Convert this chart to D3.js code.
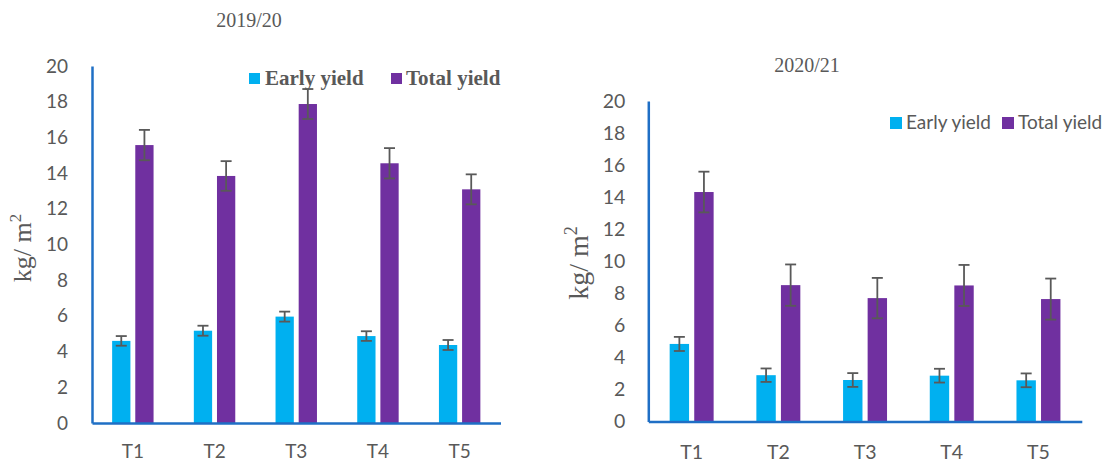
<!DOCTYPE html>
<html>
<head>
<meta charset="utf-8">
<script src="https://cdn.jsdelivr.net/npm/d3@7"></script>
<style>
        body { margin: 0; background: #fff; }
        svg { display: block; }
</style>
</head>
<body>
<script>
// Yield bar charts, two seasons side by side

const categories = ['T1', 'T2', 'T3', 'T4', 'T5'];
const series = ['Early yield', 'Total yield'];
const yTicks = [0, 2, 4, 6, 8, 10, 12, 14, 16, 18, 20];

// 2019/20
const early1920 = [4.60, 5.17, 5.96, 4.87, 4.37];
const earlyErr1920 = [0.27, 0.28, 0.28, 0.27, 0.28];
const total1920 = [15.57, 13.84, 17.87, 14.55, 13.09];
const totalErr1920 = [0.85, 0.83, 0.84, 0.85, 0.84];

// 2020/21
const early2021 = [4.84, 2.89, 2.59, 2.86, 2.57];
const earlyErr2021 = [0.44, 0.42, 0.43, 0.43, 0.43];
const total2021 = [14.32, 8.51, 7.70, 8.49, 7.64];
const totalErr2021 = [1.27, 1.29, 1.26, 1.28, 1.28];

const colors = { 'Early yield': '#00B0F0', 'Total yield': '#7030A0' };
const grey = '#595959';
const axisBlue = '#1F6FC5';

const w = 1107;
const h = 463;

const svg = d3.select('body')
        .append('svg')
        .attr('width', w)
        .attr('height', h);

function drawPanel(opt) {
        let rows = categories.map((c, i) => ({
                cat: c,
                values: [
                        { key: series[0], v: opt.early[i], e: opt.earlyErr[i] },
                        { key: series[1], v: opt.total[i], e: opt.totalErr[i] }
                ]
        }));

        const x0 = d3.scaleBand()
                .domain(categories)
                .range([opt.left, opt.right]);

        const x1 = d3.scaleBand()
                .domain(series)
                .range([0, x0.bandwidth()])
                .paddingInner(0.21)
                .paddingOuter(0.87);

        const y = d3.scaleLinear()
                .domain([0, 20])
                .range([opt.bottom, opt.top]);

        const g = svg.append('g');

        // bars
        const grp = g.selectAll('.grp')
                .data(rows)
                .enter()
                .append('g')
                .attr('transform', d => `translate(${x0(d.cat)},0)`);

        grp.selectAll('rect')
                .data(d => d.values)
                .enter()
                .append('rect')
                .attr('x', d => x1(d.key))
                .attr('y', d => y(d.v))
                .attr('width', x1.bandwidth())
                .attr('height', d => y(0) - y(d.v))
                .attr('fill', d => colors[d.key]);

        // error bars
        const cap = opt.cap;
        const eb = grp.selectAll('.err')
                .data(d => d.values)
                .enter()
                .append('g')
                .attr('stroke', grey)
                .attr('stroke-width', 1.8);
        eb.append('line')
                .attr('x1', d => x1(d.key) + x1.bandwidth() / 2)
                .attr('x2', d => x1(d.key) + x1.bandwidth() / 2)
                .attr('y1', d => y(d.v + d.e))
                .attr('y2', d => y(d.v - d.e));
        eb.append('line')
                .attr('x1', d => x1(d.key) + x1.bandwidth() / 2 - cap / 2)
                .attr('x2', d => x1(d.key) + x1.bandwidth() / 2 + cap / 2)
                .attr('y1', d => y(d.v + d.e))
                .attr('y2', d => y(d.v + d.e));
        eb.append('line')
                .attr('x1', d => x1(d.key) + x1.bandwidth() / 2 - cap / 2)
                .attr('x2', d => x1(d.key) + x1.bandwidth() / 2 + cap / 2)
                .attr('y1', d => y(d.v - d.e))
                .attr('y2', d => y(d.v - d.e));

        // y axis
        const yAxisG = g.append('g')
                .attr('transform', `translate(${opt.left},0)`)
                .call(d3.axisLeft(y).tickValues(yTicks).tickSize(0).tickSizeOuter(0).tickPadding(opt.tickPad));
        yAxisG.select('.domain')
                .attr('stroke', axisBlue)
                .attr('stroke-width', 2.5);
        yAxisG.selectAll('text')
                .attr('fill', grey)
                .style('font-family', 'Lato, sans-serif')
                .style('font-size', opt.tickFont + 'px');

        // x axis
        const xAxisG = g.append('g')
                .attr('transform', `translate(0,${opt.bottom})`)
                .call(d3.axisBottom(x0).tickSize(0).tickSizeOuter(0));
        xAxisG.select('.domain')
                .attr('stroke', axisBlue)
                .attr('stroke-width', 2.5);
        xAxisG.selectAll('text')
                .attr('y', opt.xLabelY)
                .attr('dy', 0)
                .attr('fill', grey)
                .style('font-family', 'Lato, sans-serif')
                .style('font-size', opt.tickFont + 'px');

        // title
        g.append('text')
                .text(opt.title)
                .attr('x', opt.titleX)
                .attr('y', opt.titleY)
                .attr('text-anchor', 'middle')
                .attr('fill', grey)
                .style('font-family', '"Liberation Serif", serif')
                .style('font-size', '20px');

        // y label
        const yl = g.append('text')
                .attr('transform', `translate(${opt.ylabX},${opt.ylabY}) rotate(-90)`)
                .attr('text-anchor', 'middle')
                .attr('fill', grey)
                .style('font-family', '"Liberation Serif", serif')
                .style('font-size', opt.ylabFont + 'px');
        yl.append('tspan').text('kg/ m');
        yl.append('tspan')
                .text('2')
                .attr('dy', -opt.ylabFont * 0.4)
                .style('font-size', (opt.ylabFont * 0.65) + 'px');

        // legend
        const lg = g.append('g');
        series.forEach((s, i) => {
                lg.append('rect')
                        .attr('x', opt.legend[i].sx)
                        .attr('y', opt.legend[i].sy)
                        .attr('width', opt.legend[i].size)
                        .attr('height', opt.legend[i].size)
                        .attr('fill', colors[s]);
                lg.append('text')
                        .text(s)
                        .attr('x', opt.legend[i].tx)
                        .attr('y', opt.legend[i].ty)
                        .attr('fill', grey)
                        .style('font-family', opt.legendFont)
                        .style('font-weight', opt.legendWeight)
                        .style('font-size', opt.legendSize + 'px');
        });
}

drawPanel({
        early: early1920, earlyErr: earlyErr1920,
        total: total1920, totalErr: totalErr1920,
        left: 92, right: 500.5, top: 66, bottom: 423,
        cap: 11, tickPad: 24, tickFont: 19, xLabelY: 35,
        title: '2019/20', titleX: 249, titleY: 27,
        ylabX: 31, ylabY: 248, ylabFont: 26,
        legendFont: '"Liberation Serif", serif', legendWeight: 'bold', legendSize: 21,
        legend: [
                { sx: 249, sy: 73, size: 11, tx: 265, ty: 84.5 },
                { sx: 391, sy: 73, size: 11, tx: 406, ty: 84.5 }
        ]
});

drawPanel({
        early: early2021, earlyErr: earlyErr2021,
        total: total2021, totalErr: totalErr2021,
        left: 648.3, right: 1081.8, top: 101, bottom: 421.5,
        cap: 11, tickPad: 23, tickFont: 19.5, xLabelY: 37,
        title: '2020/21', titleX: 807, titleY: 72,
        ylabX: 588, ylabY: 263, ylabFont: 28,
        legendFont: 'Lato, sans-serif', legendWeight: 'normal', legendSize: 19,
        legend: [
                { sx: 890, sy: 117, size: 12, tx: 906, ty: 129 },
                { sx: 1002, sy: 117, size: 12, tx: 1018, ty: 129 }
        ]
});
</script>
</body>
</html>
